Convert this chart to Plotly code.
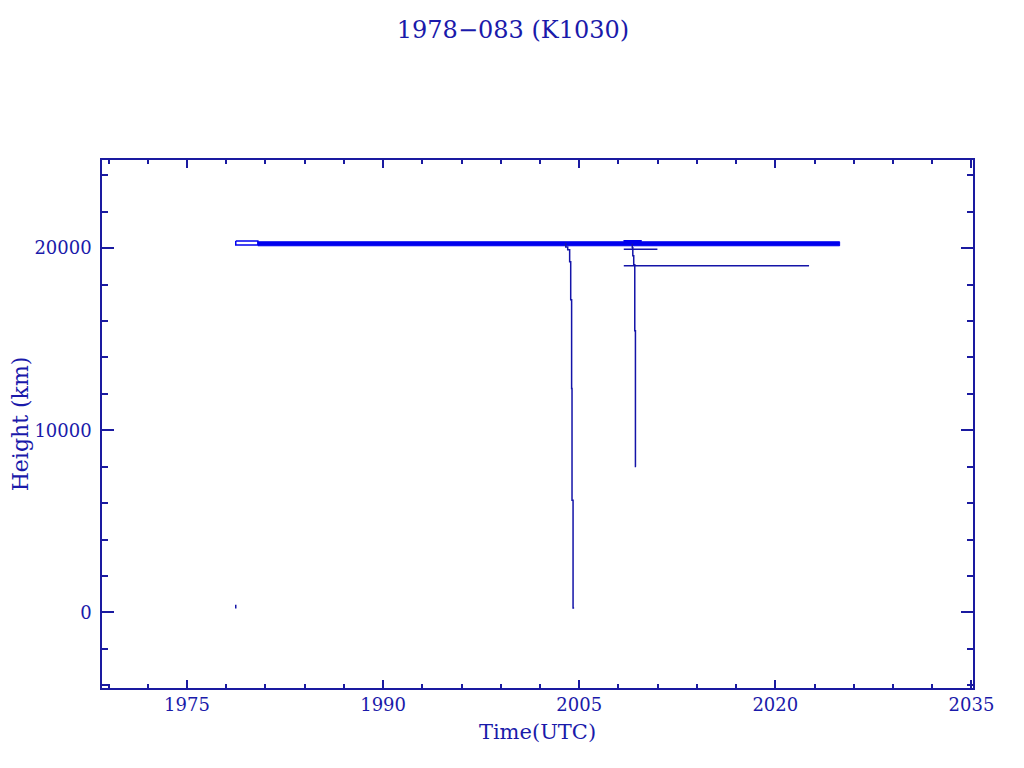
import plotly.graph_objects as go

# ---- data ----
band_years = [1980.42, 2008.41, 2008.41, 2009.76, 2009.76, 2024.92]
band_top = [20350, 20350, 20420, 20420, 20350, 20350]
band_bottom = [20130, 20130, 20130, 20130, 20130, 20130]

start_box_years = [1978.73, 1980.42, 1980.42, 1978.73, 1978.73]
start_box_heights = [20390, 20390, 20170, 20170, 20390]

decay1_years = [2003.97, 2004.12, 2004.27, 2004.35, 2004.42, 2004.45, 2004.53, 2004.61]
decay1_heights = [20290, 20070, 19907, 19249, 17167, 12290, 6153, 236]

decay2_years = [2009.06, 2009.10, 2009.17, 2009.25, 2009.30, 2009.35]
decay2_heights = [20236, 20016, 19578, 19085, 15468, 8016]

hline1_years = [2008.41, 2010.98]
hline1_heights = [19945, 19945]
hline2_years = [2008.41, 2022.58]
hline2_heights = [19030, 19030]

launch_years = [1978.73, 1978.73]
launch_heights = [416, 219]

x_ticks = [1975, 1990, 2005, 2020, 2035]
y_ticks = [0, 10000, 20000]

TEXT = "#1a1aaa"
AXIS = "#1a1aa0"
BAND = "#0000ee"
LINE = "#1414a8"
FONT = "DejaVu Serif"

fig = go.Figure()

fig.add_trace(go.Scatter(
    x=band_years + band_years[::-1],
    y=band_top + band_bottom[::-1],
    fill="toself", fillcolor=BAND, mode="lines",
    line=dict(color=BAND, width=1), hoverinfo="skip", showlegend=False))

fig.add_trace(go.Scatter(x=start_box_years, y=start_box_heights, mode="lines",
                         line=dict(color=BAND, width=1.5), showlegend=False))

for xs, ys in [(decay1_years, decay1_heights), (decay2_years, decay2_heights),
               (hline1_years, hline1_heights), (hline2_years, hline2_heights),
               (launch_years, launch_heights)]:
    fig.add_trace(go.Scatter(x=xs, y=ys, mode="lines",
                             line=dict(color=LINE, width=1.5, shape="vh"),
                             showlegend=False))

axis_common = dict(
    showgrid=False, zeroline=False, showline=True, linecolor=AXIS, linewidth=1.5,
    mirror="ticks", ticks="inside", tickcolor=AXIS, tickwidth=1.5, automargin=False,
    tickfont=dict(family=FONT, size=18, color=TEXT),
)

fig.update_layout(
    width=1024, height=768,
    paper_bgcolor="white", plot_bgcolor="white",
    margin=dict(l=94, r=59, t=152, b=88),
    title=dict(text="1978\u2212083 (K1030)", x=505 / 1024, xref="container", xanchor="center",
               y=1 - 22 / 768, yref="container", yanchor="middle",
               font=dict(family=FONT, size=24, color=TEXT)),
    xaxis=dict(range=[1968.5, 2035.12], tickvals=x_ticks, ticklen=8,
               minor=dict(dtick=3, tick0=1975, ticklen=4, ticks="inside",
                          tickcolor=AXIS, tickwidth=1.5, showgrid=False),
               title=dict(text="Time(UTC)", standoff=10,
                          font=dict(family=FONT, size=21, color=TEXT)),
               **axis_common),
    yaxis=dict(range=[-4150, 24840], tickvals=y_ticks, tickformat="d", ticklen=12,
               ticklabelstandoff=5,
               minor=dict(dtick=2000, tick0=0, ticklen=6, ticks="inside",
                          tickcolor=AXIS, tickwidth=1.5, showgrid=False),
               title=dict(text="Height (km)", standoff=13,
                          font=dict(family=FONT, size=22, color=TEXT)),
               **axis_common),
)

fig.write_html("out.html")
